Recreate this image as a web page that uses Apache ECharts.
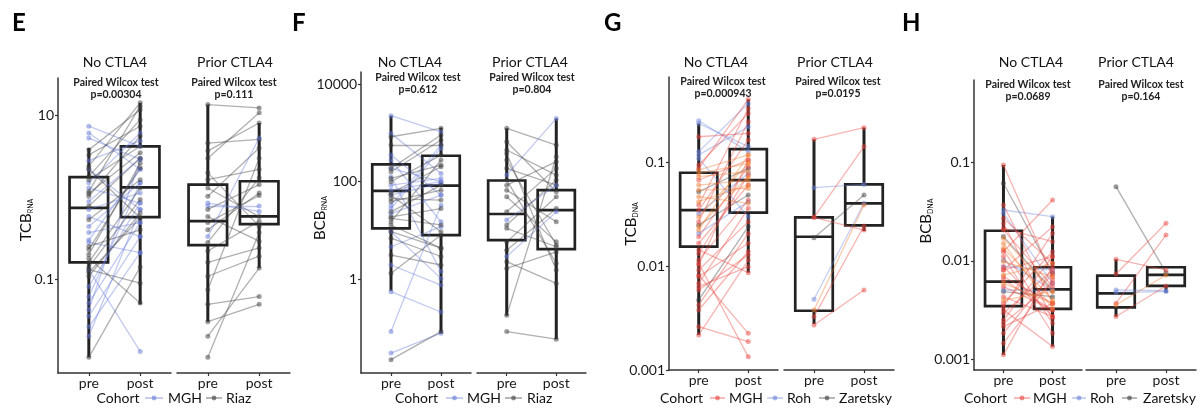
<!DOCTYPE html>
<html>
<head>
<meta charset="utf-8">
<script src="https://cdn.jsdelivr.net/npm/echarts@6/dist/echarts.min.js"></script>
<style>
  html, body { margin: 0; background: #fff; }
  #chart { width: 1204px; height: 410px; }
</style>
</head>
<body>
<div id="chart"></div>
<script>
// ---- data (raw units) ----
// E: TCB RNA
const eNoPre = [7.4, 6.1, 5.3, 2.8, 2.2, 1.5, 1.3, 0.89, 0.71, 0.58, 0.44, 0.37, 0.30, 0.28, 0.13, 0.081, 0.061, 0.051, 0.042, 0.035, 0.026, 0.020,
  3.8, 3.3, 2.4, 1.8, 1.18, 1.11, 1.03, 0.53, 0.23, 0.20, 0.16, 0.14, 0.108, 0.011, 0.18, 0.13, 0.12, 0.25, 2.2, 1.64, 0.78];
const eNoPost = [4.2, 2.2, 2.9, 4.9, 0.71, 6.1, 0.85, 3.0, 1.13, 0.33, 1.5, 0.49, 2.2, 0.21, 0.013, 0.85, 1.5, 0.49, 2.9, 0.33, 0.21, 0.71,
  11.8, 7.4, 14.3, 8.9, 13.0, 3.5, 5.6, 1.64, 2.3, 2.6, 1.3, 0.94, 0.64, 0.14, 0.051, 0.089, 0.56, 0.40, 0.56, 4.2, 3.0];
const eNoCohort = 'MMMMMMMMMMMMMMMMMMMMMM' + 'RRRRRRRRRRRRRRRRRRRRR';
const ePriorPre = [13.6, 4.6, 3.7, 3.0, 1.99, 1.64, 1.3, 1.03, 0.85, 0.33, 0.78, 0.71, 0.58, 0.49, 0.40, 0.28, 0.22, 0.16, 0.108, 0.074, 0.049, 0.030, 0.020, 0.011];
const ePriorPost = [12.4, 5.1, 8.1, 10.8, 0.44, 2.2, 0.58, 4.0, 0.67, 5.3, 0.78, 1.43, 0.29, 1.05, 1.13, 1.73, 0.51, 0.24, 0.19, 3.0, 0.061, 0.049, 0.136, 0.37];
const ePriorCohort = 'RRRRRRRRMMMRRRRRRRRRRRRR';
// box: [lower whisker, Q1, median, Q3, upper whisker] for pre, post
const eNoBox = [[0.011, 0.16, 0.74, 1.76, 4.0], [0.049, 0.57, 1.32, 4.2, 14.3]];
const ePriorBox = [[0.030, 0.26, 0.51, 1.43, 13.6], [0.136, 0.47, 0.585, 1.57, 8.1]];

// F: BCB RNA
const fNoPre = [2270, 985, 353, 279, 127, 85, 67, 28, 9.4, 4.6, 1.94, 0.55, 0.083, 0.030, 33, 22, 53, 188,
  840, 567, 188, 160, 100, 58, 45, 15, 12.9, 6.9, 3.1, 1.31, 0.022, 24, 17.7, 53, 39, 19, 117, 9.4];
const fNoPost = [1060, 148, 53, 15, 1.42, 117, 100, 484, 1.03, 11.9, 0.75, 0.21, 33, 0.077, 567, 53, 92, 100,
  1250, 567, 910, 718, 353, 203, 42, 279, 4.3, 2.9, 1.94, 8.0, 0.083, 85, 12.9, 9.4, 67, 28, 220, 4.3];
const fNoCohort = 'MMMMMMMMMMMMMMMMMM' + 'RRRRRRRRRRRRRRRRRRRR';
const fPriorPre = [1250, 664, 448, 382, 279, 188, 137, 108, 85, 67, 49, 24, 16.3, 12.9, 11, 5.8, 3.9, 2.9, 2.27, 1.65, 0.18, 0.083];
const fPriorPost = [567, 62, 137, 1.53, 5.0, 85, 2000, 2.1, 258, 15, 5.8, 188, 85, 108, 4.6, 49, 28, 24, 0.81, 3.6, 326, 0.058];
const fPriorCohort = 'RRRRRRMRRRRRMRRRRMRRRR';
const fNoBox = [[0.57, 11, 65, 227, 2270], [0.077, 8.0, 83, 342, 1290]];
const fPriorBox = [[0.177, 6.3, 21.7, 106, 1250], [0.058, 4.1, 26, 67, 2000]];

// G: TCB DNA  (M = MGH, O = MGH shaded, H = Roh, Z = Zaretsky)
const gNoPre = [0.254, 0.239, 0.128, 0.119, 0.110, 0.0324, 0.0208,
  0.0525, 0.0251, 0.00474,
  0.178, 0.0949, 0.0881, 0.0681, 0.0391, 0.0349, 0.0270, 0.0193, 0.0167, 0.0133, 0.0115, 0.0103, 0.00923, 0.00825, 0.00686, 0.00592, 0.00424, 0.00262, 0.00218, 0.0107, 0.0144, 0.00795, 0.00637, 0.00379,
  0.0849, 0.0789, 0.0733, 0.0609, 0.0544, 0.0470, 0.0421, 0.0301, 0.0242, 0.0224];
const gNoPost = [0.128, 0.143, 0.373, 0.222, 0.0301, 0.0789, 0.0421,
  0.0881, 0.0488, 0.0242,
  0.192, 0.299, 0.408, 0.106, 0.334, 0.166, 0.248, 0.0915, 0.0609, 0.0760, 0.0436, 0.106, 0.0270, 0.00226, 0.0363, 0.0129, 0.0208, 0.00188, 0.0115, 0.00134, 0.00869, 0.0167, 0.00993, 0.0139,
  0.119, 0.0986, 0.0818, 0.0681, 0.0565, 0.0406, 0.0609, 0.0986, 0.0733, 0.119];
const gNoCohort = 'HHHHHHH' + 'ZZZ' + 'MMMMMMMMMMMMMMMMMMMMMMMM' + 'OOOOOOOOOO';
const gPriorPre = [0.168, 0.0574, 0.0297, 0.0189, 0.00481, 0.00379, 0.00327, 0.00272, 0.0297];
const gPriorPost = [0.218, 0.0618, 0.143, 0.0488, 0.0406, 0.0391, 0.0245, 0.00592, 0.0224];
const gPriorCohort = 'MHMZHOMMM';
const gNoBox = [[0.00218, 0.0155, 0.0349, 0.080, 0.239], [0.0087, 0.033, 0.068, 0.1355, 0.408]];
const gPriorBox = [[0.00278, 0.00373, 0.0193, 0.0297, 0.168], [0.0219, 0.0248, 0.0406, 0.0618, 0.218]];

// H: BCB DNA
const hNoPre = [0.0617, 0.0177, 0.00488,
  0.0330, 0.0305, 0.0102, 0.00876, 0.00507,
  0.0946, 0.0371, 0.0272, 0.0242, 0.0215, 0.0124, 0.00810, 0.00641, 0.00371, 0.00344, 0.00318, 0.00294, 0.00251, 0.00232, 0.00215, 0.00184, 0.00146, 0.00111, 0.0129, 0.0111, 0.00548, 0.00433, 0.00810, 0.0207, 0.00693, 0.00876,
  0.0170, 0.0151, 0.0135, 0.00985, 0.00721, 0.00593, 0.00401];
const hNoPost = [0.00750, 0.00507, 0.00433,
  0.0282, 0.00593, 0.00507, 0.00810, 0.00499,
  0.00693, 0.00371, 0.00947, 0.00261, 0.0157, 0.0417, 0.0223, 0.00318, 0.0124, 0.0191, 0.00135, 0.00810, 0.0111, 0.00593, 0.00371, 0.00750, 0.00641, 0.00876, 0.00232, 0.00184, 0.00318, 0.00272, 0.0111, 0.00548, 0.00371, 0.00272,
  0.00488, 0.00330, 0.00401, 0.00693, 0.00947, 0.00371, 0.00488];
const hNoCohort = 'ZZZ' + 'HHHHH' + 'MMMMMMMMMMMMMMMMMMMMMMMMMM' + 'OOOOOOO';
const hPriorPre = [0.0570, 0.0104, 0.00738, 0.00371, 0.00507, 0.00480, 0.00357, 0.00272];
const hPriorPost = [0.00761, 0.00810, 0.0242, 0.0184, 0.00499, 0.00488, 0.00721, 0.00557];
const hPriorCohort = 'ZMMMHHOM';
const hNoBox = [[0.00111, 0.00348, 0.00616, 0.0203, 0.0946], [0.00135, 0.00325, 0.00515, 0.00863, 0.0283]];
const hPriorBox = [[0.00272, 0.00338, 0.00469, 0.0071, 0.0104], [0.00477, 0.00557, 0.00721, 0.00863, 0.00863]];

const timepoints = ['pre', 'post'];
const facetTitles = ['No CTLA4', 'Prior CTLA4'];
const pValues = [['p=0.00304', 'p=0.111'], ['p=0.612', 'p=0.804'], ['p=0.000943', 'p=0.0195'], ['p=0.0689', 'p=0.164']];
const yTickValues = [[0.1, 10], [1, 100, 10000], [0.001, 0.01, 0.1], [0.001, 0.01, 0.1]];

// ---- styling / layout ----
const FONT = 'Lato, "Noto Sans", sans-serif';
const COL_RNA = { M: '#6478d6', R: '#3a3a3a' };
const COL_DNA = { M: '#e8433d', O: '#ef7b30', H: '#6c84da', Z: '#3a3a3a' };

const panels = [
  { letter: 'E', lx: 12, top: 78, bottom: 373, grids: [[58, 113], [177, 113]], y: [-2.15, 1.459],
    yName: ['TCB', 'RNA'], yNamePos: [25, 220], titleX: [115, 235], testX: [116, 234], testY: 83,
    colors: COL_RNA, facets: [[eNoPre, eNoPost, eNoCohort, eNoBox], [ePriorPre, ePriorPost, ePriorCohort, ePriorBox]],
    legend: [['Cohort', 96.5], ['M', 145, 163], ['MGH', 168], ['R', 206, 222], ['Riaz', 226]] },
  { letter: 'F', lx: 292, top: 72, bottom: 373, grids: [[361, 110], [477, 109]], y: [-1.932, 4.255],
    yName: ['BCB', 'RNA'], yNamePos: [319, 218], titleX: [410, 530], testX: [418, 532], testY: 78,
    colors: COL_RNA, facets: [[fNoPre, fNoPost, fNoCohort, fNoBox], [fPriorPre, fPriorPost, fPriorCohort, fPriorBox]],
    legend: [['Cohort', 395], ['M', 446, 463], ['MGH', 467], ['R', 505, 522], ['Riaz', 527]] },
  { letter: 'G', lx: 604, top: 77, bottom: 370, grids: [[669, 109], [784, 110]], y: [-3.0, -0.173],
    yName: ['TCB', 'DNA'], yNamePos: [630, 224], titleX: [716, 835], testX: [723, 838], testY: 82,
    colors: COL_DNA, facets: [[gNoPre, gNoPost, gNoCohort, gNoBox], [gPriorPre, gPriorPost, gPriorCohort, gPriorBox]],
    legend: [['Cohort', 660], ['M', 710, 725], ['MGH', 729], ['H', 767, 783], ['Roh', 787], ['Z', 819, 835], ['Zaretsky', 839]] },
  { letter: 'H', lx: 902, top: 80, bottom: 370, grids: [[974, 108], [1086, 110]], y: [-3.109, -0.159],
    yName: ['BCB', 'DNA'], yNamePos: [925, 221], titleX: [1031, 1136], testX: [1028, 1141], testY: 85,
    colors: COL_DNA, facets: [[hNoPre, hNoPost, hNoCohort, hNoBox], [hPriorPre, hPriorPost, hPriorCohort, hPriorBox]],
    legend: [['Cohort', 964], ['M', 1014, 1030], ['MGH', 1033], ['H', 1072, 1086], ['Roh', 1090], ['Z', 1122, 1137], ['Zaretsky', 1143]] }
];

const lg = v => Math.log10(v);
const tickText = v => (v >= 0 ? String(Math.round(Math.pow(10, v))) : Math.pow(10, v).toFixed(Math.round(-v)));

function renderBox(params, api) {
  const x = api.value(0);
  const p = [1, 2, 3, 4, 5].map(i => api.coord([x, api.value(i)]));
  const half = api.size([0.75, 0])[0] / 2;
  const cx = p[0][0];
  const st = { stroke: '#222', lineWidth: 2.7, fill: 'rgba(0,0,0,0)' };
  const wh = { stroke: '#222', lineWidth: 3 };
  return {
    type: 'group',
    children: [
      { type: 'line', shape: { x1: cx, y1: p[0][1], x2: cx, y2: p[1][1] }, style: wh },
      { type: 'line', shape: { x1: cx, y1: p[3][1], x2: cx, y2: p[4][1] }, style: wh },
      { type: 'rect', shape: { x: cx - half, y: p[3][1], width: half * 2, height: p[1][1] - p[3][1] }, style: st },
      { type: 'line', shape: { x1: cx - half, y1: p[2][1], x2: cx + half, y2: p[2][1] }, style: st }
    ]
  };
}

const grid = [], xAxis = [], yAxis = [], series = [], graphic = [];

panels.forEach((pn, pi) => {
  const ticks = yTickValues[pi].map(lg);
  pn.facets.forEach((fc, fi) => {
    const gi = pi * 2 + fi;
    const [pre, post, cohort, box] = fc;
    grid.push({ left: pn.grids[fi][0], width: pn.grids[fi][1], top: pn.top, height: pn.bottom - pn.top, outerBoundsMode: 'none' });
    xAxis.push({
      gridIndex: gi, type: 'value', min: 0.4, max: 2.6,
      axisLine: { show: true, onZero: false, lineStyle: { color: '#333', width: 1.5 } },
      axisTick: { show: true, length: 3, customValues: [1, 2], lineStyle: { color: '#333', width: 1.2 } },
      axisLabel: { customValues: [1, 2], formatter: v => timepoints[Math.round(v) - 1], margin: 3, fontSize: 14, fontFamily: FONT, color: '#1a1a1a' },
      splitLine: { show: false }
    });
    yAxis.push({
      gridIndex: gi, type: 'value', min: pn.y[0], max: pn.y[1], show: fi === 0,
      axisLine: { show: true, onZero: false, lineStyle: { color: '#333', width: 1.5 } },
      axisTick: { show: true, length: 3, customValues: ticks, lineStyle: { color: '#333', width: 1.2 } },
      axisLabel: { customValues: ticks, formatter: tickText, margin: 4, fontSize: 14, fontFamily: FONT, color: '#1a1a1a' },
      splitLine: { show: false }
    });

    series.push({
      type: 'custom', xAxisIndex: gi, yAxisIndex: gi, silent: true, z: 1,
      renderItem: renderBox,
      encode: { x: 0, y: [1, 2, 3, 4, 5] },
      data: box.map((b, k) => [k + 1].concat(b.map(lg)))
    });

    const n = Math.min(pre.length, post.length, cohort.length);
    const segs = [], pts = [];
    for (let i = 0; i < n; i++) {
      const c = pn.colors[cohort[i]];
      segs.push({ coords: [[1, lg(pre[i])], [2, lg(post[i])]], lineStyle: { color: c } });
      pts.push({ value: [1, lg(pre[i])], itemStyle: { color: c } });
      pts.push({ value: [2, lg(post[i])], itemStyle: { color: c } });
    }
    series.push({
      type: 'lines', coordinateSystem: 'cartesian2d', xAxisIndex: gi, yAxisIndex: gi, silent: true, z: 2,
      lineStyle: { width: 1.3, opacity: 0.4 },
      data: segs
    });
    series.push({
      type: 'scatter', xAxisIndex: gi, yAxisIndex: gi, silent: true, z: 3,
      symbolSize: 5, itemStyle: { opacity: 0.5 },
      data: pts
    });

    // facet strip title and test annotation
    graphic.push({ type: 'text', x: pn.titleX[fi], y: 62, style: { text: facetTitles[fi], font: '14px ' + FONT, fill: '#111', align: 'center', verticalAlign: 'middle' } });
    graphic.push({ type: 'text', x: pn.testX[fi], y: pn.testY, style: { text: 'Paired Wilcox test', font: 'bold 10.5px ' + FONT, fill: '#222', align: 'center', verticalAlign: 'middle' } });
    graphic.push({ type: 'text', x: pn.testX[fi], y: pn.testY + 12, style: { text: pValues[pi][fi], font: 'bold 10.5px ' + FONT, fill: '#222', align: 'center', verticalAlign: 'middle' } });
  });

  // panel letter
  graphic.push({ type: 'text', x: pn.lx, y: 23, style: { text: pn.letter, font: 'bold 24px ' + FONT, fill: '#000', align: 'left', verticalAlign: 'middle' } });

  // y axis title with subscript
  graphic.push({
    type: 'text', x: pn.yNamePos[0], y: pn.yNamePos[1], rotation: Math.PI / 2,
    style: {
      text: '{a|' + pn.yName[0] + '}{b|' + pn.yName[1] + '}',
      align: 'center', verticalAlign: 'middle',
      rich: {
        a: { fontSize: 15, fontFamily: FONT, fill: '#111', lineHeight: 18, verticalAlign: 'bottom' },
        b: { fontSize: 7, fontFamily: FONT, fill: '#111', lineHeight: 9, verticalAlign: 'bottom' }
      }
    }
  });

  // cohort legend
  pn.legend.forEach(item => {
    if (item.length === 2) {
      graphic.push({ type: 'text', x: item[1], y: 398, style: { text: item[0], font: '14px ' + FONT, fill: '#111', align: 'left', verticalAlign: 'middle' } });
    } else {
      const c = pn.colors[item[0]];
      graphic.push({ type: 'line', shape: { x1: item[1], y1: 398, x2: item[2], y2: 398 }, style: { stroke: c, lineWidth: 1.6, opacity: 0.45 } });
      graphic.push({ type: 'circle', shape: { cx: (item[1] + item[2]) / 2, cy: 398, r: 2.4 }, style: { fill: c, opacity: 0.6 } });
    }
  });
});

const chart = echarts.init(document.getElementById('chart'), null, { renderer: 'canvas' });
chart.setOption({
  animation: false,
  backgroundColor: '#fff',
  grid, xAxis, yAxis, series, graphic
});
</script>
</body>
</html>
